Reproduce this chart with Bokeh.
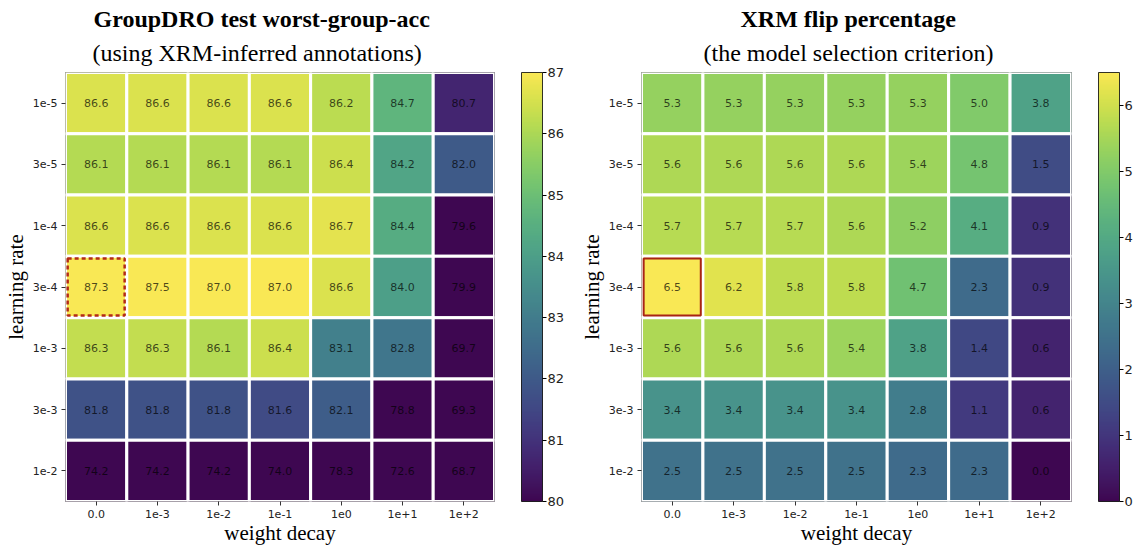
import numpy as np
from bokeh.plotting import figure
from bokeh.models import (ColumnDataSource, LinearColorMapper, ColorBar, FixedTicker,
                          Title, FactorRange)
from bokeh.palettes import Viridis256
from bokeh.layouts import row
from bokeh.core.properties import value
from bokeh.embed import file_html
from bokeh.resources import INLINE

# hyper-parameter grid
weight_decay = ["0.0", "1e-3", "1e-2", "1e-1", "1e0", "1e+1", "1e+2"]
learning_rate = ["1e-5", "3e-5", "1e-4", "3e-4", "1e-3", "3e-3", "1e-2"]

# GroupDRO worst-group accuracy (rows: learning rate, cols: weight decay)
worst_group_acc = [
    [86.6, 86.6, 86.6, 86.6, 86.2, 84.7, 80.7],
    [86.1, 86.1, 86.1, 86.1, 86.4, 84.2, 82.0],
    [86.6, 86.6, 86.6, 86.6, 86.7, 84.4, 79.6],
    [87.3, 87.5, 87.0, 87.0, 86.6, 84.0, 79.9],
    [86.3, 86.3, 86.1, 86.4, 83.1, 82.8, 69.7],
    [81.8, 81.8, 81.8, 81.6, 82.1, 78.8, 69.3],
    [74.2, 74.2, 74.2, 74.0, 78.3, 72.6, 68.7],
]

# XRM flip percentage (model selection criterion)
flip_pct = [
    [5.3, 5.3, 5.3, 5.3, 5.3, 5.0, 3.8],
    [5.6, 5.6, 5.6, 5.6, 5.4, 4.8, 1.5],
    [5.7, 5.7, 5.7, 5.6, 5.2, 4.1, 0.9],
    [6.5, 6.2, 5.8, 5.8, 4.7, 2.3, 0.9],
    [5.6, 5.6, 5.6, 5.4, 3.8, 1.4, 0.6],
    [3.4, 3.4, 3.4, 3.4, 2.8, 1.1, 0.6],
    [2.5, 2.5, 2.5, 2.5, 2.3, 2.3, 0.0],
]

acc_ticks = [80, 81, 82, 83, 84, 85, 86, 87]
flip_ticks = [0, 1, 2, 3, 4, 5, 6]

# selected configuration = highest flip percentage
sel_r, sel_c = np.unravel_index(np.argmax(np.array(flip_pct)), (7, 7))
sel_x, sel_y = weight_decay[sel_c], learning_rate[sel_r]

SERIF = "Liberation Serif"
SANS = "DejaVu Sans"


def soft_viridis():
    """Viridis re-encoded through the Display-P3 primaries (slightly muted)."""
    m = np.array([[0.8225, 0.1774, 0.0],
                  [0.0332, 0.9669, 0.0],
                  [0.0171, 0.0724, 0.9108]])
    out = []
    for h in Viridis256:
        c = np.array([int(h[i:i + 2], 16) for i in (1, 3, 5)]) / 255.0
        lin = np.where(c <= 0.04045, c / 12.92, ((c + 0.055) / 1.055) ** 2.4)
        p3 = np.clip(m @ lin, 0, 1)
        enc = np.where(p3 <= 0.0031308, p3 * 12.92, 1.055 * p3 ** (1 / 2.4) - 0.055)
        r, g, b = (np.round(enc * 255)).astype(int)
        out.append(f"#{r:02x}{g:02x}{b:02x}")
    return out


PALETTE = soft_viridis()


def heatmap(values, low, high, ticks, title1, title2, width, bl, br, off1, off2,
            sel_dash, sel_color, sel_width):
    xs, ys, vs, labels = [], [], [], []
    for i, lr in enumerate(learning_rate):
        for j, wd in enumerate(weight_decay):
            xs.append(wd)
            ys.append(lr)
            vs.append(values[i][j])
            labels.append(f"{values[i][j]:.1f}")
    src = ColumnDataSource(dict(x=xs, y=ys, v=vs, label=labels))
    mapper = LinearColorMapper(palette=PALETTE, low=low, high=high)

    p = figure(width=width, height=547, output_backend="svg", toolbar_location=None,
               x_range=FactorRange(*weight_decay),
               y_range=FactorRange(*reversed(learning_rate)),
               title=title1, min_border_left=bl, min_border_right=br,
               min_border_top=72, min_border_bottom=46)
    p.title.align = "left"
    p.title.text_font = SERIF
    p.title.text_font_size = "24px"
    p.title.text_font_style = "bold"
    p.title.text_color = "black"
    p.title.offset = off1
    p.title.standoff = 0
    t2 = Title(text=title2, align="left", text_font=SERIF, text_font_size="24px",
               text_font_style="normal", text_color="black", offset=off2, standoff=13)
    p.add_layout(t2, "above")

    p.rect(x="x", y="y", width=1, height=1, source=src,
           fill_color={"field": "v", "transform": mapper},
           line_color="white", line_width=3)
    p.text(x="x", y="y", text="label", source=src, text_align="center",
           text_baseline="middle", text_font=value(SANS), text_font_size="11px",
           text_color="black", text_alpha=0.7)
    p.rect(x=[sel_x], y=[sel_y], width=0.93, height=0.93, fill_color=None,
           line_color=sel_color, line_width=sel_width, line_dash=sel_dash)

    p.outline_line_color = "#555555"
    p.outline_line_width = 1
    p.grid.grid_line_color = None
    p.background_fill_color = "white"
    for ax in (p.xaxis[0], p.yaxis[0]):
        ax.axis_line_color = None
        ax.major_tick_in = 0
        ax.major_tick_out = 4
        ax.major_tick_line_color = "#333333"
        ax.minor_tick_line_color = None
        ax.major_label_text_font = SANS
        ax.major_label_text_font_size = "11px"
        ax.major_label_text_color = "#222222"
        ax.axis_label_text_font = SERIF
        ax.axis_label_text_font_size = "21px"
        ax.axis_label_text_font_style = "normal"
        ax.axis_label_text_color = "black"
    p.xaxis.axis_label = "weight decay"
    p.yaxis.axis_label = "learning rate"
    p.xaxis.major_label_standoff = 4
    p.yaxis.major_label_standoff = 4
    p.xaxis.axis_label_standoff = 0
    p.yaxis.axis_label_standoff = 2

    cb = ColorBar(color_mapper=mapper, ticker=FixedTicker(ticks=ticks), width=21,
                  location=(27, 0), padding=0, margin=0, major_tick_in=0,
                  major_tick_out=4, major_tick_line_color="black",
                  bar_line_color="black", bar_line_width=0.8,
                  major_label_text_font=SANS, major_label_text_font_size="13px",
                  major_label_text_color="#222222", label_standoff=1,
                  border_line_color=None, background_fill_color=None)
    p.add_layout(cb, "right")
    return p


left = heatmap(worst_group_acc, 80, 87, acc_ticks, "GroupDRO test worst-group-acc",
               "(using XRM-inferred annotations)", 567, 65, 72, 28, 27,
               "4 3", "#b22a16", 2.5)
right = heatmap(flip_pct, 0, 6.5, flip_ticks, "XRM flip percentage",
                "(the model selection criterion)", 568, 74, 64, 99, 62,
                "solid", "#a82414", 2)

layout = row(left, right)
open("out.html", "w").write(file_html(layout, INLINE))
